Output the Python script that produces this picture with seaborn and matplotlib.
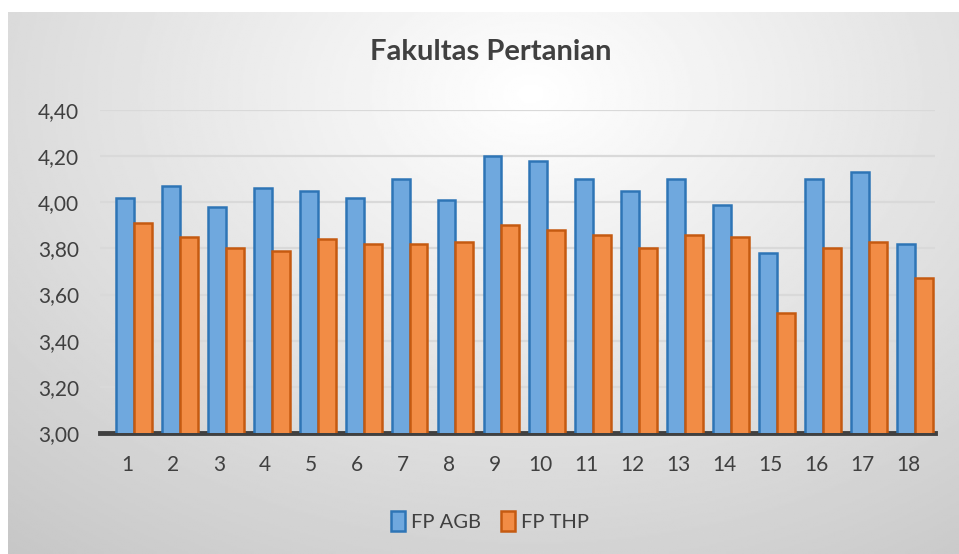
import matplotlib
matplotlib.use("Agg")
import matplotlib.pyplot as plt
import matplotlib.ticker as mtick
import numpy as np
import pandas as pd
import seaborn as sns

sns.set_theme(style="white")
plt.rcParams['font.family'] = ['Lato', 'DejaVu Sans']

# values
categories = [str(i) for i in range(1, 19)]
fp_agb = [4.02, 4.07, 3.98, 4.06, 4.05, 4.02, 4.10, 4.01, 4.20,
          4.18, 4.10, 4.05, 4.10, 3.99, 3.78, 4.10, 4.13, 3.82]
fp_thp = [3.91, 3.85, 3.80, 3.79, 3.84, 3.82, 3.82, 3.83, 3.90,
          3.88, 3.86, 3.80, 3.86, 3.85, 3.52, 3.80, 3.83, 3.67]
series_names = ["FP AGB", "FP THP"]
y_ticks = [3.0, 3.2, 3.4, 3.6, 3.8, 4.0, 4.2, 4.4]

df = pd.DataFrame({
    "kategori": categories * 2,
    "nilai": fp_agb + fp_thp,
    "seri": [series_names[0]] * len(categories) + [series_names[1]] * len(categories),
})

face = {"FP AGB": "#6FA8DE", "FP THP": "#F28C45"}
edge = {"FP AGB": "#2E75B6", "FP THP": "#C55A11"}

fig = plt.figure(figsize=(9.59, 5.54), dpi=100)

# radial gradient background of the chart area
bg = fig.add_axes([8 / 959, 0, 1 - 8 / 959, 1 - 12 / 554], zorder=-10)
yy, xx = np.mgrid[0:1:300j, 0:1:500j]
r = np.sqrt(((xx - 0.55) / 0.75) ** 2 + ((yy - 0.15) / 0.95) ** 2)
shade = 1.0 - 0.24 * np.clip(r, 0, 1.25) / 1.25
bg.imshow(shade, cmap="gray", vmin=0, vmax=1, aspect="auto", extent=[0, 1, 1, 0])
bg.set_axis_off()

ax = fig.add_axes([100 / 959, 1 - 433 / 554, 835 / 959, 323 / 554])
ax.patch.set_alpha(0)

sns.barplot(data=df, x="kategori", y="nilai", hue="seri", palette=face,
            saturation=1, width=0.78, gap=0, ax=ax, legend=True, linewidth=1.8)
for cont, name in zip(ax.containers, series_names):
    for bar in cont:
        bar.set_edgecolor(edge[name])
        bar.set_zorder(3)

ax.set_ylim(3.0, 4.4)
ax.set_yticks(y_ticks)
ax.yaxis.set_major_formatter(mtick.FuncFormatter(lambda v, p: f"{v:.2f}".replace(".", ",")))
ax.set_xticks(np.arange(len(categories)) - 0.15)
ax.set_xticklabels(categories)
ax.set_xlim(-0.74, len(categories) - 1 + 0.44)
ax.grid(axis="y", color="#D9D9D9", linewidth=1.6, zorder=0)
ax.set_axisbelow(True)
ax.set_xlabel("")
ax.set_ylabel("")
ax.tick_params(axis="both", length=0, labelsize=15, labelcolor="#404040")
ax.tick_params(axis="y", pad=15)
ax.tick_params(axis="x", pad=16)
for side in ["top", "right", "left"]:
    ax.spines[side].set_visible(False)
ax.spines["bottom"].set_color("#404040")
ax.spines["bottom"].set_linewidth(3.5)

handles, labels = ax.get_legend_handles_labels()
ax.get_legend().remove()
for h, name in zip(handles, series_names):
    h.set_edgecolor(edge[name])
fig.legend(handles, labels, loc="center", bbox_to_anchor=(490 / 959, 1 - 521 / 554),
           ncol=2, frameon=False, fontsize=14.5, handlelength=0.7, handleheight=1.1,
           handletextpad=0.3, columnspacing=1.0, labelcolor="#404040")

fig.text(491 / 959, 1 - 52 / 554, "Fakultas Pertanian", ha="center", va="center",
         fontsize=21, fontweight="bold", color="#404040")

fig.savefig("out.png", dpi=100)
